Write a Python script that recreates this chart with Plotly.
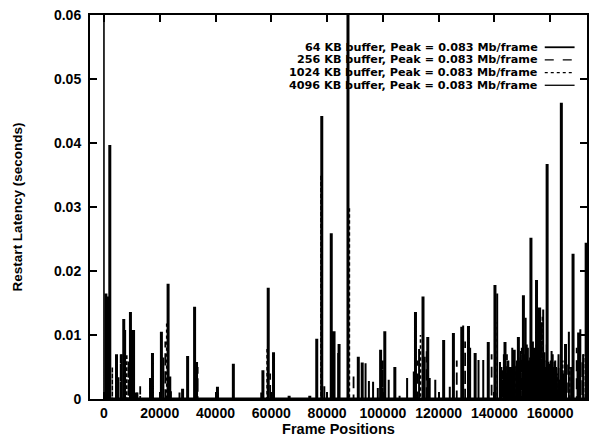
import plotly.graph_objects as go

# ---- data: spike positions (frame) and restart latency (seconds) ----
kb64_frames = [700, 1400, 2100, 4500, 7100, 9500, 10200, 11500, 16700, 17400, 20600, 23000, 23600,
               28200, 30000, 32500, 33200, 40700, 46400, 57000, 58900, 60800, 66400, 73800, 76300,
               78100, 81500, 82500, 84300, 87500, 91200, 92600, 99200, 100700, 104300, 111700,
               114400, 116100, 121800, 125300, 128300, 130700, 133100, 137800, 140200, 143800,
               147100, 148600, 150400, 153100, 155100, 158900, 164000, 165500, 168200, 170200, 172900]
kb64_lat = [0.0165, 0.0160, 0.0397, 0.0070, 0.0125, 0.0136, 0.0108, 0.0010, 0.0033, 0.0072, 0.0105,
            0.0180, 0.0035, 0.0016, 0.0067, 0.0144, 0.0058, 0.0019, 0.0055, 0.0045, 0.0174, 0.0073,
            0.0005, 0.0005, 0.0094, 0.0442, 0.0259, 0.0106, 0.0086, 0.0650, 0.0066, 0.0057, 0.0077,
            0.0106, 0.0050, 0.0136, 0.0160, 0.0097, 0.0092, 0.0103, 0.0113, 0.0114, 0.0072, 0.0089,
            0.0178, 0.0089, 0.0077, 0.0097, 0.0162, 0.0252, 0.0186, 0.0367, 0.0463, 0.0086, 0.0227,
            0.0104, 0.0244]

kb256_frames = [6000, 8800, 13000, 22000, 33600, 59600, 89500, 100000, 112500, 115700, 126500,
                129500, 139000, 144500, 146500, 148000, 149800, 151800, 152600, 154300, 156000,
                157000, 158000, 159400, 160400, 161500, 163000, 166000, 169500, 171500,
                143000, 145200, 147300, 150200, 153000, 155000, 157800, 160700, 162300, 164800]
kb256_lat = [0.0070, 0.0060, 0.0020, 0.0090, 0.0050, 0.0040, 0.0040, 0.0060, 0.0060, 0.0080, 0.0060,
             0.0090, 0.0070, 0.0070, 0.0040, 0.0060, 0.0080, 0.0060, 0.0050, 0.0070, 0.0100,
             0.0120, 0.0080, 0.0060, 0.0040, 0.0060, 0.0050, 0.0060, 0.0080, 0.0060,
             0.0045, 0.0040, 0.0055, 0.0045, 0.0060, 0.0050, 0.0045, 0.0050, 0.0035, 0.0040]

kb1024_frames = [0, 1700, 3000, 8200, 22500, 58500, 77800, 88000, 113500, 140500, 145500, 147500,
                 150000, 153500, 155400, 157200, 159000, 161000, 162500, 164500, 167000, 172000,
                 144200, 146200, 148300, 151500, 154000, 156200, 158600, 160000, 163200]
kb1024_lat = [0.0750, 0.0140, 0.0050, 0.0070, 0.0120, 0.0080, 0.0350, 0.0300, 0.0100, 0.0120,
              0.0050, 0.0045, 0.0070, 0.0060, 0.0090, 0.0130, 0.0050, 0.0030, 0.0040, 0.0060,
              0.0050, 0.0070,
              0.0040, 0.0035, 0.0050, 0.0055, 0.0045, 0.0060, 0.0040, 0.0035, 0.0030]

kb4096_frames = [1000, 5200, 6400, 7600, 10800, 12000, 21300, 24000, 27100, 40900, 56400, 79000,
                 84000, 93800, 95000, 96500, 98200, 102100, 106000, 108700, 111100, 113000, 115000,
                 116800, 118800, 124000, 128800, 131300, 134300, 136000, 141000, 142000, 144000,
                 145000, 145500, 146000, 146800, 147800, 149000, 149200, 150800, 151200, 152000,
                 152300, 153400, 153800, 154800, 155700, 156400, 156800, 157500, 158300, 159200,
                 159700, 160200, 160900, 161200, 162100, 162800, 163500, 166700, 170800,
                 142500, 143400, 144700, 145800, 146400, 147000, 148600, 149500, 150500, 151600,
                 152800, 154500, 155300, 156000, 157200, 158000, 158800, 159500, 160500, 161800,
                 163000, 164400, 165000, 167500, 169800, 171800]
kb4096_lat = [0.0128, 0.0034, 0.0070, 0.0108, 0.0108, 0.0010, 0.0065, 0.0012, 0.0010, 0.0010, 0.0010,
              0.0020, 0.0072, 0.0056, 0.0028, 0.0027, 0.0017, 0.0030, 0.0005, 0.0033, 0.0043, 0.0078,
              0.0066, 0.0033, 0.0030, 0.0019, 0.0115, 0.0080, 0.0061, 0.0061, 0.0165, 0.0058, 0.0040,
              0.0060, 0.0050, 0.0050, 0.0060, 0.0050, 0.0040, 0.0060, 0.0070, 0.0127, 0.0080,
              0.0060, 0.0050, 0.0090, 0.0070, 0.0143, 0.0143, 0.0060, 0.0140, 0.0050, 0.0040,
              0.0050, 0.0060, 0.0070, 0.0050, 0.0050, 0.0040, 0.0030, 0.0105, 0.0109,
              0.0050, 0.0070, 0.0060, 0.0045, 0.0080, 0.0055, 0.0065, 0.0075, 0.0050, 0.0085,
              0.0065, 0.0080, 0.0060, 0.0090, 0.0070, 0.0060, 0.0085, 0.0055, 0.0075, 0.0060,
              0.0070, 0.0045, 0.0030, 0.0050, 0.0060, 0.0070]

legend_labels = ["64 KB buffer, Peak = 0.083 Mb/frame",
                 "256 KB buffer, Peak = 0.083 Mb/frame",
                 "1024 KB buffer, Peak = 0.083 Mb/frame",
                 "4096 KB buffer, Peak = 0.083 Mb/frame"]

x_ticks = [0, 20000, 40000, 60000, 80000, 100000, 120000, 140000, 160000]
y_ticks = [0, 0.01, 0.02, 0.03, 0.04, 0.05, 0.06]


def spikes(frames, lats):
    xs, ys = [], []
    for f, v in sorted(zip(frames, lats)):
        xs += [f, f, f]
        ys += [0, v, 0]
    return xs, ys


FONT = "Liberation Sans"
KEYFONT = "DejaVu Sans"
styles = [
    (kb64_frames, kb64_lat, 3.0, "solid"),
    (kb256_frames, kb256_lat, 1.8, "dash"),
    (kb1024_frames, kb1024_lat, 1.6, "dot"),
    (kb4096_frames, kb4096_lat, 2.0, "solid"),
]

fig = go.Figure()
for (fr, lt, w, d), name in zip(styles, legend_labels):
    xs, ys = spikes(fr, lt)
    fig.add_trace(go.Scatter(x=xs, y=ys, mode="lines", name=name, showlegend=False,
                             line=dict(color="black", width=w, dash=d)))

# gnuplot-style key (text right-aligned, sample on the right)
row_y = [0.916, 0.883, 0.850, 0.817]
for lab, yy, (_, _, w, d) in zip(legend_labels, row_y, styles):
    fig.add_annotation(x=0.903, y=yy, xref="paper", yref="paper", text=lab, showarrow=False,
                       xanchor="right", yanchor="middle", borderpad=0,
                       font=dict(family=KEYFONT, size=11.2, color="black", weight="bold"))
    fig.add_shape(type="line", xref="paper", yref="paper", x0=0.915, x1=0.975, y0=yy, y1=yy,
                  line=dict(color="black", width=1.8 if w > 2.5 else 1.3, dash=d))

axis_font = dict(family=FONT, size=14, color="black", weight="bold")
fig.update_layout(
    width=589, height=441,
    margin=dict(l=90, r=0, t=15, b=42),
    paper_bgcolor="white", plot_bgcolor="white",
    xaxis=dict(range=[-5000, 173200], tickvals=x_ticks, ticktext=[str(t) for t in x_ticks],
               showgrid=False, zeroline=False, showline=True, linecolor="black", linewidth=2,
               mirror="ticks", ticks="inside", ticklen=7, tickwidth=2, tickcolor="black",
               tickfont=axis_font,
               title=dict(text="Frame Positions", standoff=3,
                          font=dict(family=FONT, size=14.5, color="black", weight="bold"))),
    yaxis=dict(range=[0, 0.06], tickvals=y_ticks,
               ticktext=["0", "0.01", "0.02", "0.03", "0.04", "0.05", "0.06"],
               showgrid=False, zeroline=False, showline=True, linecolor="black", linewidth=2,
               mirror="ticks", ticks="inside", ticklen=7, tickwidth=2, tickcolor="black",
               tickfont=axis_font, ticklabelstandoff=4,
               title=dict(text="Restart Latency (seconds)", standoff=28,
                          font=dict(family=FONT, size=13.5, color="black", weight="bold"))),
)

fig.write_html("out.html")
